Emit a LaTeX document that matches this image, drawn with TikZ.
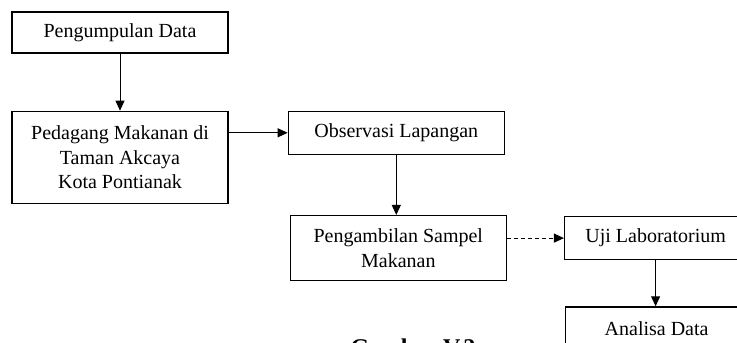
\documentclass[tikz,border=0pt]{standalone}
\usepackage{fontspec}
\setmainfont{Liberation Serif}
\usepackage{tikz}
\usetikzlibrary{positioning}
\usetikzlibrary{arrows.meta}

\begin{document}
\begin{tikzpicture}[
      x=1pt, y=1pt,
      font=\fontsize{20}{24.5}\selectfont,
      block/.style={rectangle, draw=black, line width=1.3pt, minimum width=216pt, minimum height=43pt, align=center, inner sep=2pt},
      short/.style={block, minimum width=182pt},
      trans/.style={-{Triangle[length=10pt,width=9pt]}, line width=1pt},
      maybe/.style={trans, dash pattern=on 4pt off 3pt}
    ]
    \useasboundingbox (0,0) rectangle (737,-343);
    \clip (0,0) rectangle (737,-343);
    \node(a)[block, minimum height=41pt] at (120,-32.5) {Pengumpulan Data};
    \node(b)[block, minimum height=92pt, below=57pt of a] {Pedagang Makanan di\\Taman Akcaya\\Kota Pontianak};
    \node(c)[block, right=59pt of b.north east, anchor=north west] {Observasi Lapangan};
    \node(d)[block, minimum height=65pt, below=60pt of c, xshift=2pt] {Pengambilan Sampel\\Makanan};
    \node(e)[short, right=57pt of d.north east, anchor=north west, yshift=-1pt] {Uji Laboratorium};
    \node(f)[short, below=46pt of e, xshift=1pt] {Analisa Data};
    \node(g)[font=\fontsize{24}{28}\selectfont\bfseries, anchor=base] at (413,-355) {Gambar V.2};

    \draw [trans] (a) -- (b);
    \draw [trans] (b.east |- c.west) -- (c.west);
    \draw [trans] (c.south) -- (c.south |- d.north);
    \draw [maybe] (d.east |- e.west) -- (e.west);
    \draw [trans] (e.south) -- (e.south |- f.north);
\end{tikzpicture}
\end{document}
